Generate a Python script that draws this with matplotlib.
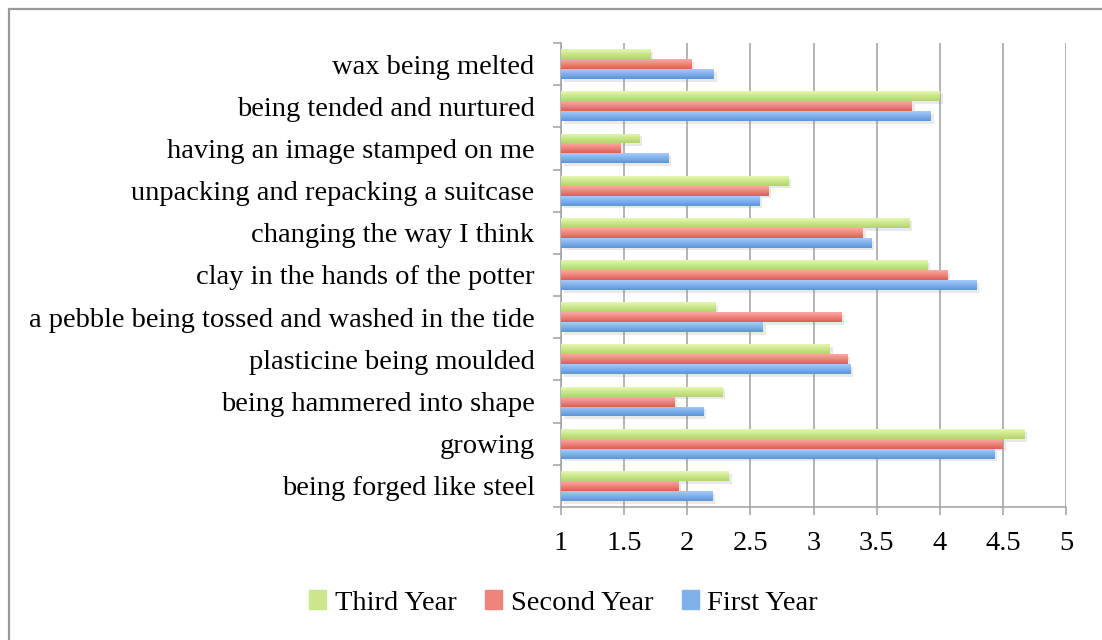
import numpy as np
import matplotlib
matplotlib.use("Agg")
from matplotlib import pyplot as plt
from matplotlib.patches import Rectangle
from matplotlib.colors import LinearSegmentedColormap
import matplotlib.patheffects as pe

# categories, bottom to top (as drawn)
categories = [
    "being forged like steel", "growing", "being hammered into shape",
    "plasticine being moulded", "a pebble being tossed and washed in the tide",
    "clay in the hands of the potter", "changing the way I think",
    "unpacking and repacking a suitcase", "having an image stamped on me",
    "being tended and nurtured", "wax being melted"
]
first_year = [2.20, 4.43, 2.13, 3.29, 2.60, 4.29, 3.46, 2.57, 1.85, 3.93, 2.21]
second_year = [1.93, 4.50, 1.90, 3.27, 3.22, 4.06, 3.39, 2.64, 1.47, 3.78, 2.03]
third_year = [2.33, 4.67, 2.28, 3.13, 2.22, 3.90, 3.76, 2.80, 1.62, 4.00, 1.71]
series_names = ["First Year", "Second Year", "Third Year"]
x_ticks = [1, 1.5, 2, 2.5, 3, 3.5, 4, 4.5, 5]

# (top, mid, bottom) gradient colours per series
gradients = [("#a6cbf9", "#80b0ea", "#5a95d8"),
             ("#fba9a4", "#ee847c", "#dd5d55"),
             ("#e4f8b0", "#cbe68c", "#b2d46a")]
grey = "#a0a0a0"

plt.rcParams['font.family'] = ['Liberation Serif', 'DejaVu Serif']
fs = 20.5

fig = plt.figure(figsize=(11.02, 6.40), dpi=100)
ax = fig.add_axes([561 / 1102, 1 - 507 / 640, 505 / 1102, 464 / 640])

y = np.arange(len(categories))
h = 0.235
base = 1.0
shadow = [pe.SimplePatchShadow(offset=(2, -2), shadow_rgbFace="#888888",
                               alpha=0.18)]
grad = np.linspace(0, 1, 64).reshape(-1, 1)
for k, vals in enumerate([first_year, second_year, third_year]):
    vals = np.array(vals)
    cmap = LinearSegmentedColormap.from_list(f"g{k}", list(gradients[k]))
    bars = ax.barh(y + (k - 1) * h, vals - base, height=h, left=base,
                   color=gradients[k][2], zorder=3)
    for b in bars:
        b.set_path_effects(shadow)
        x0, y0 = b.get_x(), b.get_y()
        im = ax.imshow(grad, cmap=cmap, aspect="auto", zorder=3.5,
                       extent=[x0, x0 + b.get_width(), y0, y0 + h],
                       origin="upper", interpolation="bilinear")
        im.set_clip_path(b)

ax.set_xlim(1, 5)
ax.set_ylim(-0.5, len(categories) - 0.5)
ax.set_xticks(x_ticks)
ax.set_xticklabels([f"{v:g}" for v in x_ticks])
ax.set_yticks(y)
ax.set_yticklabels(categories)
ax.set_yticks(np.arange(-0.5, len(categories), 1.0), minor=True)

ax.tick_params(axis="y", which="major", length=0, pad=19, labelsize=fs)
ax.tick_params(axis="y", which="minor", length=6, width=1.1, color=grey)
ax.tick_params(axis="x", length=5.5, width=1.1, color=grey, pad=12,
               labelsize=fs)

ax.grid(axis="x", color=grey, linewidth=1.1)
ax.set_axisbelow(True)
for side in ["top", "right"]:
    ax.spines[side].set_visible(False)
for side in ["left", "bottom"]:
    ax.spines[side].set_color(grey)
    ax.spines[side].set_linewidth(1.1)

handles = [Rectangle((0, 0), 1, 1, color=gradients[k][1]) for k in range(3)]
fig.legend(handles[::-1], series_names[::-1], loc="center", ncol=3,
           frameon=False, bbox_to_anchor=(563.5 / 1102, 1 - 603 / 640),
           fontsize=fs, handlelength=0.6, handleheight=0.6,
           handletextpad=0.3, columnspacing=1.0)

# outer chart border
fig.patches.append(Rectangle((9 / 1102, -0.1), 1.2, 1 - 9 / 640 + 0.1,
                             transform=fig.transFigure, fill=False,
                             edgecolor="#999999", linewidth=1.6))

fig.savefig("out.png", dpi=100)
